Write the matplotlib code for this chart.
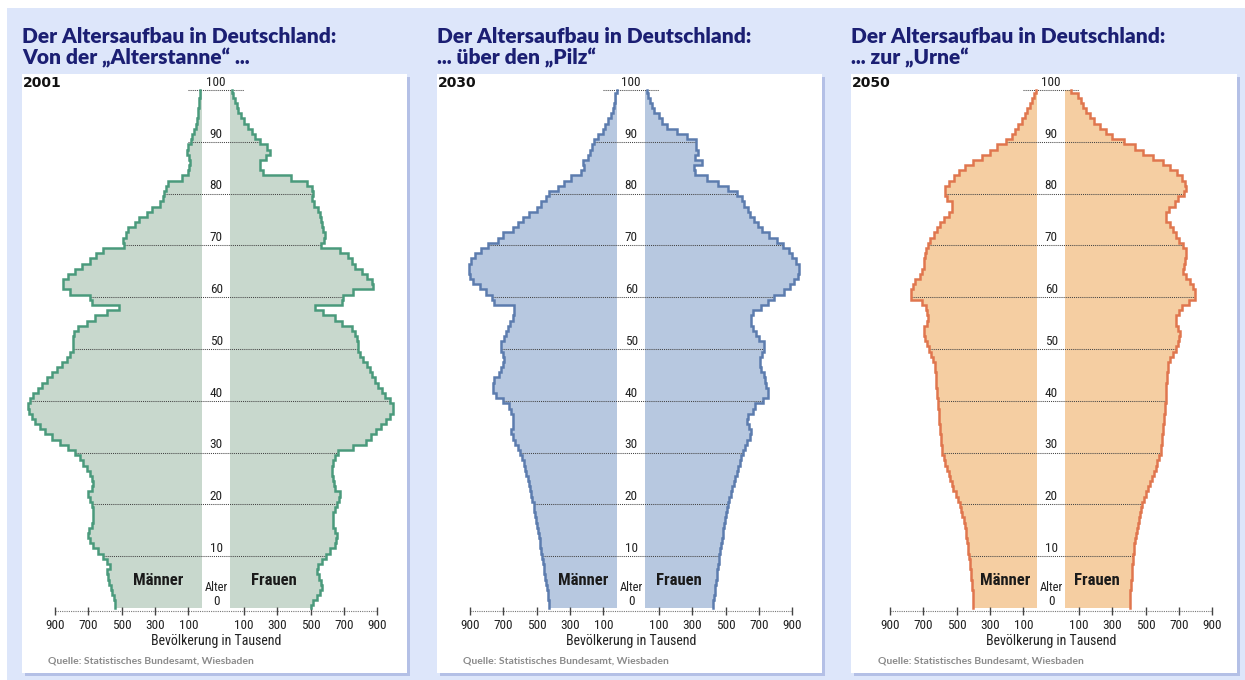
"""Altersaufbau in Deutschland 2001 / 2030 / 2050 als drei Bevölkerungspyramiden."""
import numpy as np
import matplotlib
matplotlib.use("Agg")
import matplotlib.pyplot as plt
from matplotlib import font_manager
from matplotlib.patches import Rectangle

# ---- Daten: Bevölkerung in Tausend je Altersjahr 0..100 ----
AGES = np.arange(0, 101)
YEARS = ["2001", "2030", "2050"]
TITLE_LINE1 = "Der Altersaufbau in Deutschland:"
TITLE_LINE2 = ["Von der \u201eAlterstanne\u201c ...", "... über den \u201ePilz\u201c", "... zur \u201eUrne\u201c"]
SOURCE = "Quelle: Statistisches Bundesamt, Wiesbaden"
TICK_VALUES = [100, 300, 500, 700, 900]
GRID_AGES = list(range(10, 101, 10))

MEN_2001 = [
    540, 540, 546, 560, 566, 574, 580, 586, 570, 586,
    610, 640, 670, 690, 700, 694, 680, 670, 674, 674,
    680, 690, 700, 680, 670, 680, 690, 710, 730, 750,
    780, 820, 870, 920, 960, 990, 1020, 1040, 1054, 1060,
    1050, 1030, 1000, 980, 950, 920, 890, 860, 830, 810,
    794, 790, 790, 788, 760, 710, 660, 586, 514, 680,
    690, 810, 850, 854, 820, 780, 740, 690, 654, 610,
    486, 490, 474, 460, 420, 394, 350, 320, 270, 254,
    246, 234, 224, 140, 104, 94, 90, 96, 106, 100,
    84, 78, 66, 56, 50, 44, 40, 38, 36, 32, 28]
WOMEN_2001 = [
    500, 516, 536, 556, 566, 560, 552, 536, 546, 566,
    592, 616, 646, 652, 656, 646, 636, 632, 636, 646,
    656, 672, 676, 646, 640, 636, 626, 626, 636, 646,
    666, 756, 830, 860, 890, 920, 950, 975, 996, 992,
    976, 946, 926, 906, 886, 866, 856, 836, 816, 796,
    786, 786, 776, 766, 746, 686, 646, 576, 526, 686,
    696, 756, 876, 866, 836, 806, 766, 746, 726, 676,
    560, 580, 586, 576, 566, 560, 556, 546, 520, 506,
    512, 506, 476, 380, 216, 196, 196, 232, 256, 236,
    196, 166, 146, 126, 100, 80, 66, 56, 46, 36, 30]
MEN_2030 = [
    426, 428, 430, 434, 438, 442, 450, 454, 458, 464,
    468, 472, 478, 482, 486, 490, 498, 504, 508, 514,
    518, 526, 534, 538, 546, 554, 562, 570, 578, 586,
    598, 614, 630, 644, 654, 644, 640, 644, 654, 664,
    700, 744, 764, 764, 754, 724, 714, 704, 698, 704,
    714, 714, 698, 684, 670, 658, 644, 634, 634, 754,
    768, 802, 842, 880, 898, 908, 908, 894, 870, 834,
    794, 734, 704, 644, 614, 584, 544, 498, 474, 444,
    424, 374, 334, 294, 234, 218, 224, 194, 178, 170,
    158, 134, 104, 90, 70, 54, 44, 34, 30, 28, 20]
WOMEN_2030 = [
    424, 427, 430, 434, 438, 442, 446, 450, 454, 458,
    462, 467, 472, 477, 482, 487, 492, 497, 502, 507,
    512, 521, 530, 539, 548, 557, 566, 575, 584, 593,
    602, 618, 628, 644, 652, 640, 628, 636, 664, 676,
    722, 756, 752, 742, 738, 732, 712, 706, 706, 716,
    732, 728, 700, 684, 666, 652, 652, 664, 712, 752,
    792, 848, 888, 912, 932, 942, 942, 920, 900, 878,
    846, 808, 762, 718, 696, 672, 646, 632, 612, 596,
    568, 512, 452, 388, 316, 312, 356, 316, 332, 322,
    322, 268, 208, 148, 120, 98, 72, 58, 46, 34, 28]
MEN_2050 = [
    400, 400, 402, 404, 406, 410, 412, 414, 418, 422,
    426, 430, 432, 438, 442, 446, 452, 458, 466, 474,
    480, 494, 506, 520, 530, 540, 548, 558, 568, 576,
    586, 590, 594, 596, 598, 600, 604, 606, 608, 612,
    614, 618, 620, 622, 624, 626, 628, 632, 640, 654,
    666, 680, 690, 696, 698, 680, 670, 678, 686, 706,
    774, 772, 762, 750, 722, 710, 696, 694, 690, 686,
    670, 660, 634, 618, 598, 576, 546, 530, 530, 558,
    572, 572, 546, 518, 486, 450, 400, 346, 302, 260,
    202, 166, 148, 130, 106, 88, 76, 62, 50, 36, 26]
WOMEN_2050 = [
    404, 404, 406, 408, 410, 414, 416, 418, 420, 422,
    424, 428, 432, 436, 440, 446, 452, 458, 464, 472,
    480, 490, 500, 512, 526, 540, 548, 560, 570, 580,
    590, 592, 596, 598, 602, 606, 608, 612, 616, 618,
    620, 620, 622, 624, 626, 628, 632, 636, 644, 664,
    684, 694, 700, 704, 696, 680, 684, 700, 720, 760,
    794, 794, 784, 764, 744, 724, 728, 734, 740, 740,
    724, 700, 684, 666, 646, 624, 622, 640, 674, 696,
    728, 744, 736, 716, 690, 648, 604, 546, 484, 434,
    370, 298, 260, 228, 188, 168, 140, 124, 110, 94, 54]

MEN = [MEN_2001, MEN_2030, MEN_2050]
WOMEN = [WOMEN_2001, WOMEN_2030, WOMEN_2050]

# ---- Stil ----
FILL = ["#c8d8cd", "#b7c8e0", "#f5cea2"]
EDGE = ["#4a9a7c", "#5c7cae", "#e0764e"]
BG = "#dde6fa"
SHADOW = "#b4c0e6"
NAVY = "#1b1f73"

W, H = 1245, 680
PANEL_X = [(22, 407), (437, 822), (851, 1237)]   # weiße Kästen (px)
CENTER = [216.15, 631.15, 1051.15]               # Mitte der Alterslücke (px)
LABEL_DX = [345, 288, 276]                       # Abstand "Männer"/"Frauen"
SOURCE_X = [48, 463, 878]
G0 = 67      # halbe Lücke bis zur Null der Skala
GB = 85      # innerer Balkenrand
U = 6.0      # Tausend pro Pixel
Y0, PXY = 608, 5.18   # Pixelzeile von Alter 0, Pixel pro Jahr


def pick(*names):
    have = {f.name for f in font_manager.fontManager.ttflist}
    for n in names:
        if n in have:
            return n
    return "DejaVu Sans"


NARROW = pick("Liberation Sans Narrow", "Roboto Condensed", "Liberation Sans")
HUMAN = pick("Lato", "Open Sans", "Noto Sans")


def fx(px):
    return px / W


def fy(py):
    return 1 - py / H


def step_outline(values):
    edges = np.concatenate(([AGES[0]], (AGES[:-1] + AGES[1:]) / 2, [AGES[-1]]))
    ys = np.column_stack([edges[:-1], edges[1:]]).ravel()
    xs = np.repeat(np.asarray(values, dtype=float), 2)
    return xs, ys


def main():
    fig = plt.figure(figsize=(W / 100, H / 100), dpi=100)
    fig.patches.append(Rectangle((fx(7), 0), 1 - fx(7), fy(8), transform=fig.transFigure,
                                 color=BG, lw=0, zorder=-10))

    for i in range(3):
        x0, x1 = PANEL_X[i]
        fig.patches.append(Rectangle((fx(x0 + 3), fy(676)), fx(x1 - x0), (676 - 77) / H,
                                     transform=fig.transFigure, color=SHADOW, lw=0, zorder=-9))
        fig.patches.append(Rectangle((fx(x0), fy(673)), fx(x1 - x0), (673 - 74) / H,
                                     transform=fig.transFigure, color="white", lw=0, zorder=-8))

        # Titel und Jahr
        fig.text(fx(x0), fy(43), TITLE_LINE1, fontsize=15, fontweight="heavy", color=NAVY,
                 family=HUMAN, va="baseline")
        fig.text(fx(x0), fy(64), TITLE_LINE2[i], fontsize=15, fontweight="heavy", color=NAVY,
                 family=HUMAN, va="baseline")
        fig.text(fx(x0 + 1), fy(83), YEARS[i], fontsize=10, fontweight="bold",
                 color="#111111", family="DejaVu Sans", va="center")
        fig.text(fx(SOURCE_X[i]), fy(661), SOURCE, fontsize=7.5, fontweight="bold",
                 color="#8a8a8a", family=HUMAN, va="center")

        cx = CENTER[i]
        top_age, bot_age = 103.5, -3.5
        top_px, bot_px = Y0 - top_age * PXY, Y0 - bot_age * PXY
        ax = fig.add_axes([fx(cx - 195), fy(bot_px), 390 / W, (bot_px - top_px) / H])
        ax.set_xlim(-195 * U, 195 * U)
        ax.set_ylim(bot_age, top_age)
        ax.axis("off")

        men = np.asarray(MEN[i])
        women = np.asarray(WOMEN[i])
        xm, ys = step_outline(-(G0 + men))
        xw, _ = step_outline(G0 + women)
        ax.fill_betweenx(ys, -GB, xm, color=FILL[i], lw=0, zorder=1)
        ax.fill_betweenx(ys, GB, xw, color=FILL[i], lw=0, zorder=1)
        ax.plot(xm, ys, color=EDGE[i], lw=1.8, zorder=3, solid_joinstyle="miter")
        ax.plot(xw, ys, color=EDGE[i], lw=1.8, zorder=3, solid_joinstyle="miter")

        # Altersraster
        for a in GRID_AGES:
            left = -(G0 + max(men[a], 100))
            right = G0 + max(women[a], 100)
            ax.plot([left, right], [a, a], color="#444444", lw=0.75, ls=(0, (1, 1)), zorder=2)
            ax.text(0, a + 1.5, str(a), ha="center", va="center", fontsize=9.5,
                    family=NARROW, color="#222222")
        ax.text(0, 3.9, "Alter", ha="center", va="center", fontsize=9, family=NARROW,
                color="#222222")
        ax.text(0, 1.35, "0", ha="center", va="center", fontsize=9.5, family=NARROW,
                color="#222222")
        ax.text(-LABEL_DX[i], 5.4, "Männer", ha="center", va="center", fontsize=12,
                fontweight="bold", family=NARROW, color="#1a1a1a", zorder=4)
        ax.text(LABEL_DX[i], 5.4, "Frauen", ha="center", va="center", fontsize=12,
                fontweight="bold", family=NARROW, color="#1a1a1a", zorder=4)

        # Bevölkerungsskala
        ax_y = -0.6
        ax.plot([-(G0 + 900), G0 + 900], [ax_y, ax_y], color="#777777", lw=0.8,
                ls=(0, (1, 1)), clip_on=False)
        tick_x = [-(G0 + v) for v in TICK_VALUES] + [G0 + v for v in TICK_VALUES]
        ax.plot(tick_x, [ax_y] * len(tick_x), ls="none", marker="|", ms=6, mew=1,
                color="#444444", clip_on=False)
        for v in TICK_VALUES:
            for sgn in (-1, 1):
                ax.text(sgn * (G0 + v), -3.47, str(v), ha="center", va="center",
                        fontsize=9.5, family=NARROW, color="#222222")
        ax.text(0, -6.37, "Bevölkerung in Tausend", ha="center", va="center",
                fontsize=10, family=NARROW, color="#222222")

    fig.savefig("out.png", dpi=100, facecolor="white")


if __name__ == "__main__":
    main()
